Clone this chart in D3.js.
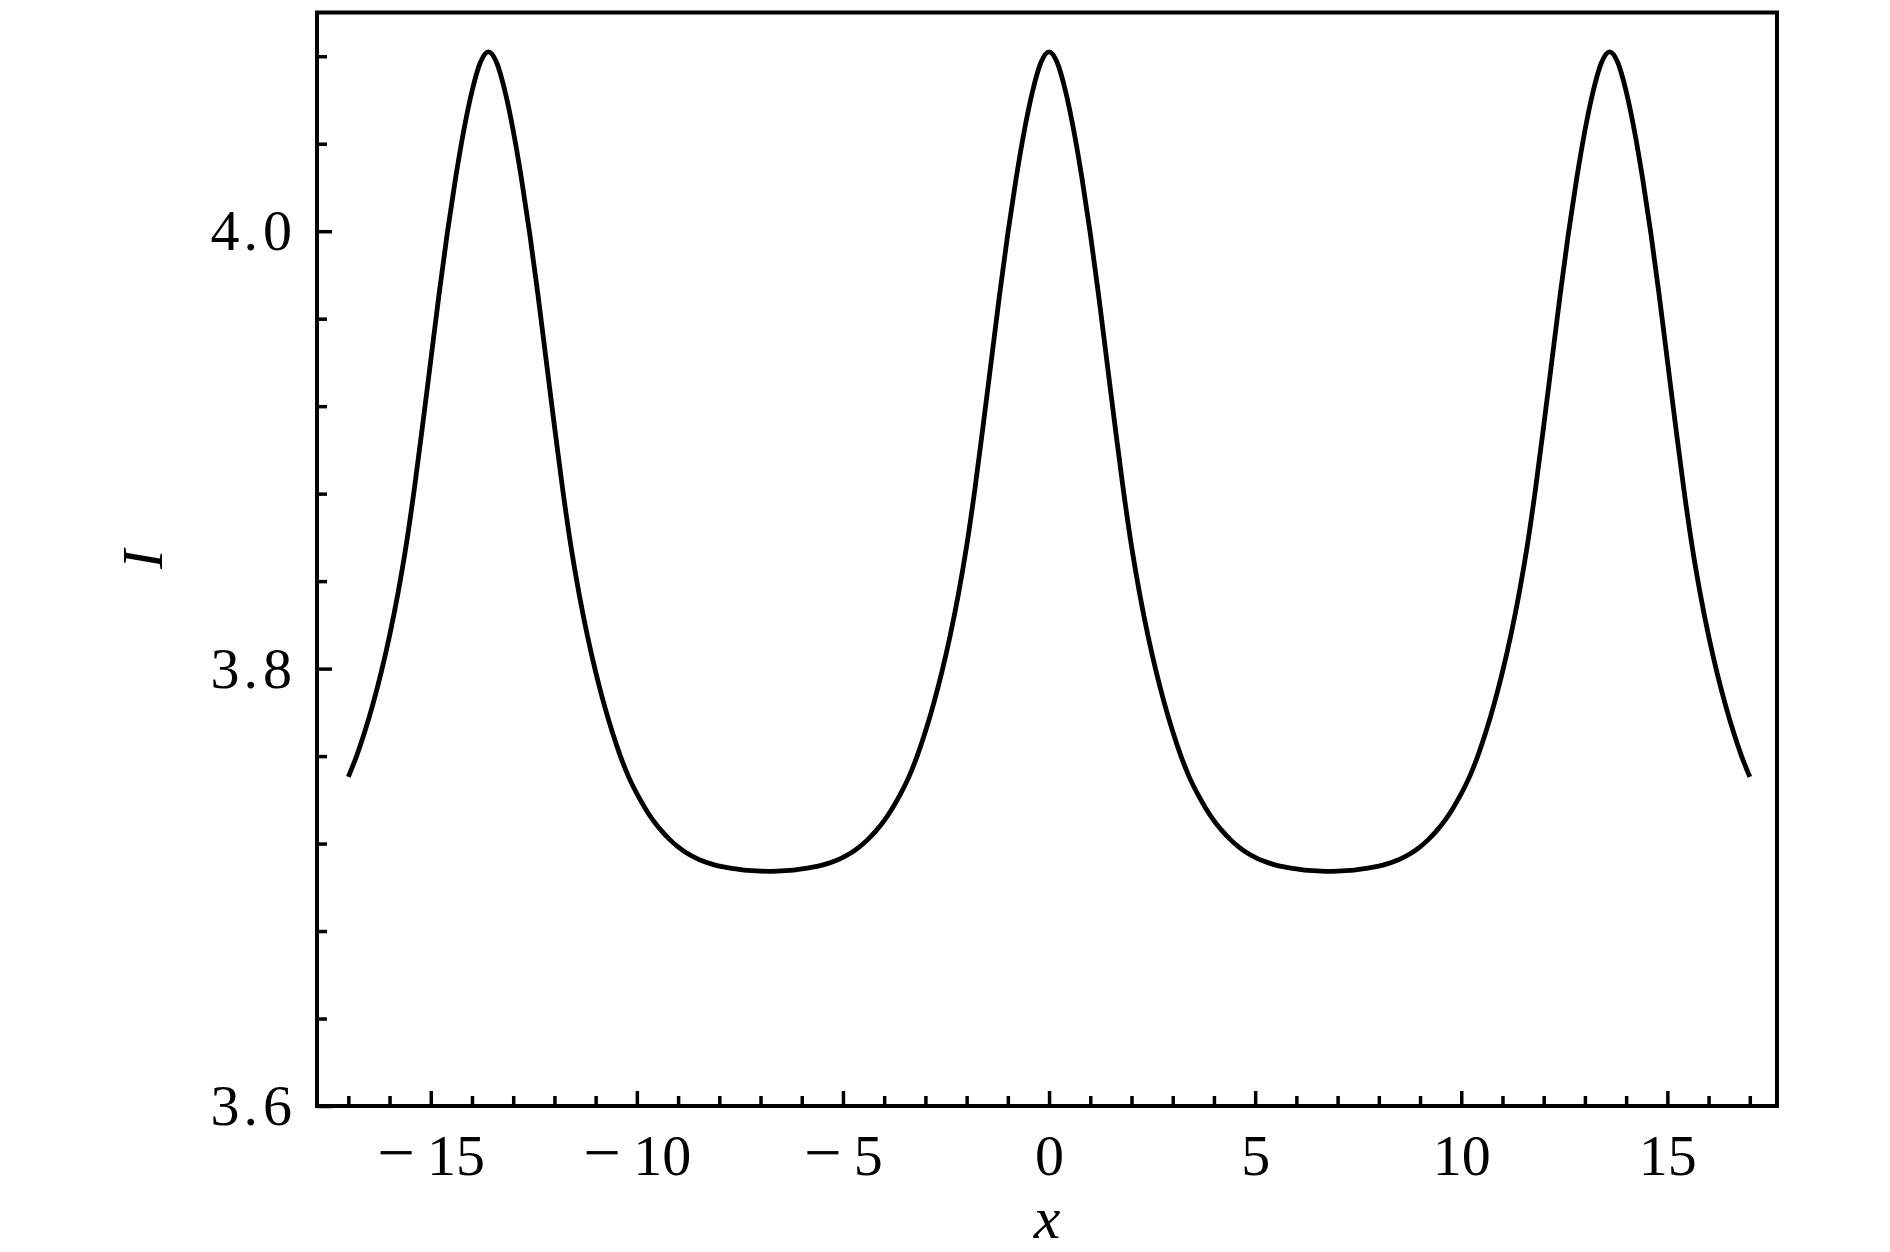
<!DOCTYPE html>
<html>
<head>
<meta charset="utf-8">
<script src="https://cdn.jsdelivr.net/npm/d3@7"></script>
<style>
  html, body { margin: 0; padding: 0; background: #fff; }
  svg { display: block; }
</style>
</head>
<body>
<svg id="chart" width="1890" height="1252"></svg>
<script>
// ---- data ----
const xValues = [
  -17.0,-16.8,-16.6,-16.4,-16.2,-16.0,-15.8,-15.6,-15.4,-15.2,-15.0,-14.8,-14.6,-14.4,-14.2,-14.0,-13.8,-13.6,
  -13.4,-13.2,-13.0,-12.8,-12.6,-12.4,-12.2,-12.0,-11.8,-11.6,-11.4,-11.2,-11.0,-10.8,-10.6,-10.4,-10.2,-10.0,
  -9.8,-9.6,-9.4,-9.2,-9.0,-8.8,-8.6,-8.4,-8.2,-8.0,-7.8,-7.6,-7.4,-7.2,-7.0,-6.8,
  -6.6,-6.4,-6.2,-6.0,-5.8,-5.6,-5.4,-5.2,-5.0,-4.8,-4.6,-4.4,-4.2,-4.0,-3.8,-3.6,-3.4,-3.2,-3.0,-2.8,-2.6,-2.4,
  -2.2,-2.0,-1.8,-1.6,-1.4,-1.2,-1.0,-0.8,-0.6,-0.4,-0.2,0.0,
  0.2,0.4,0.6,0.8,1.0,1.2,1.4,1.6,1.8,2.0,2.2,2.4,2.6,2.8,3.0,3.2,3.4,3.6,3.8,4.0,4.2,4.4,4.6,4.8,5.0,5.2,5.4,
  5.6,5.8,6.0,6.2,6.4,6.6,6.8,
  7.0,7.2,7.4,7.6,7.8,8.0,8.2,8.4,8.6,8.8,9.0,9.2,9.4,9.6,9.8,10.0,10.2,10.4,10.6,10.8,11.0,11.2,11.4,11.6,11.8,
  12.0,12.2,12.4,12.6,12.8,13.0,13.2,13.4,13.6,
  13.8,14.0,14.2,14.4,14.6,14.8,15.0,15.2,15.4,15.6,15.8,16.0,16.2,16.4,16.6,16.8,17.0
];
const intensity = [
  // x = -17.0 .. -13.6
  3.7505,3.7600,3.7712,3.7840,3.7985,3.8150,3.8340,3.8560,3.8820,3.9110,3.9410,3.9710,3.9990,4.0240,4.0460,4.0640,4.0770,4.0820,
  // x = -13.4 .. -6.8
  4.0770,4.0640,4.0460,4.0240,3.9990,3.9710,3.9410,3.9110,3.8820,3.8560,3.8340,3.8150,3.7985,3.7840,3.7712,3.7600,3.7505,
  3.7428,3.7362,3.7305,3.7258,3.7218,3.7185,3.7158,3.7137,3.7120,3.7107,3.7097,3.7090,3.7084,3.7079,3.7076,3.7074,3.7073,
  // x = -6.6 .. 0.0
  3.7074,3.7076,3.7079,3.7084,3.7090,3.7097,3.7107,3.7120,3.7137,3.7158,3.7185,3.7218,3.7258,3.7305,3.7362,3.7428,3.7505,
  3.7600,3.7712,3.7840,3.7985,3.8150,3.8340,3.8560,3.8820,3.9110,3.9410,3.9710,3.9990,4.0240,4.0460,4.0640,4.0770,4.0820,
  // x = 0.2 .. 6.8
  4.0770,4.0640,4.0460,4.0240,3.9990,3.9710,3.9410,3.9110,3.8820,3.8560,3.8340,3.8150,3.7985,3.7840,3.7712,3.7600,3.7505,
  3.7428,3.7362,3.7305,3.7258,3.7218,3.7185,3.7158,3.7137,3.7120,3.7107,3.7097,3.7090,3.7084,3.7079,3.7076,3.7074,3.7073,
  // x = 7.0 .. 13.6
  3.7074,3.7076,3.7079,3.7084,3.7090,3.7097,3.7107,3.7120,3.7137,3.7158,3.7185,3.7218,3.7258,3.7305,3.7362,3.7428,3.7505,
  3.7600,3.7712,3.7840,3.7985,3.8150,3.8340,3.8560,3.8820,3.9110,3.9410,3.9710,3.9990,4.0240,4.0460,4.0640,4.0770,4.0820,
  // x = 13.8 .. 17.0
  4.0770,4.0640,4.0460,4.0240,3.9990,3.9710,3.9410,3.9110,3.8820,3.8560,3.8340,3.8150,3.7985,3.7840,3.7712,3.7600,3.7505
];
const xMajorTicks = [-15, -10, -5, 0, 5, 10, 15];
const xMinorTicks = [-17,-16,-14,-13,-12,-11,-9,-8,-7,-6,-4,-3,-2,-1,1,2,3,4,6,7,8,9,11,12,13,14,16,17];
const yMajorTicks = [3.6, 3.8, 4.0];
const yMinorTicks = [3.64, 3.68, 3.72, 3.76, 3.84, 3.88, 3.92, 3.96, 4.04, 4.08];
const xLabel = "x";
const yLabel = "I";

// ---- layout ----
const plotL = 317, plotR = 1777, plotT = 12.5, plotB = 1106;
const svg = d3.select("#chart");
svg.append("rect").attr("width", 1890).attr("height", 1252).attr("fill", "#fff");

const x = d3.scaleLinear().domain([-17.76, 17.66]).range([plotL, plotR]);
const y = d3.scaleLinear().domain([3.6, 4.1]).range([plotB, plotT]);

const fontFamily = "'Liberation Serif', 'Times New Roman', serif";
const tickFont = 58;
const tickW = 3.5;

function styleAxis(g) {
  g.select(".domain").remove();
  g.selectAll(".tick line").attr("stroke", "#000").attr("stroke-width", tickW);
  g.selectAll(".tick text").attr("fill", "#000").attr("font-family", fontFamily).attr("font-size", tickFont);
}

// x minor ticks
svg.append("g").attr("transform", `translate(0,${plotB})`)
  .call(d3.axisBottom(x).tickValues(xMinorTicks).tickSizeInner(-10).tickSizeOuter(0).tickFormat(""))
  .call(styleAxis);
// x major ticks
const gx = svg.append("g").attr("transform", `translate(0,${plotB})`)
  .call(d3.axisBottom(x).tickValues(xMajorTicks).tickSizeInner(-15).tickSizeOuter(0).tickPadding(28)
    .tickFormat(d => String(Math.abs(d))))
  .call(styleAxis);
gx.selectAll(".tick text").each(function(d) {
  if (d < 0) {
    const t = d3.select(this);
    const txt = t.text();
    t.text(null);
    t.append("tspan").text("\u2212").attr("font-size", tickFont * 1.15);
    t.append("tspan").attr("dx", 12).text(txt);
  }
});

// y minor ticks
svg.append("g").attr("transform", `translate(${plotL},0)`)
  .call(d3.axisLeft(y).tickValues(yMinorTicks).tickSizeInner(-10).tickSizeOuter(0).tickFormat(""))
  .call(styleAxis);
// y major ticks
const gy = svg.append("g").attr("transform", `translate(${plotL},0)`)
  .call(d3.axisLeft(y).tickValues(yMajorTicks).tickSizeInner(-15).tickSizeOuter(0).tickPadding(25)
    .tickFormat(d3.format(".1f")))
  .call(styleAxis);
gy.selectAll(".tick text").each(function() {
  const t = d3.select(this);
  const s = t.text();
  t.text(null);
  t.append("tspan").text(s[0]);
  t.append("tspan").attr("dx", 4).text(s[1]);
  t.append("tspan").attr("dx", 5).text(s.slice(2));
});

// frame
svg.append("rect")
  .attr("x", plotL).attr("y", plotT)
  .attr("width", plotR - plotL).attr("height", plotB - plotT)
  .attr("fill", "none").attr("stroke", "#000").attr("stroke-width", 4);

// curve
const pts = xValues.map((v, i) => [v, intensity[i]]);
const line = d3.line().x(d => x(d[0])).y(d => y(d[1])).curve(d3.curveMonotoneX);
svg.append("path").datum(pts)
  .attr("d", line)
  .attr("fill", "none").attr("stroke", "#000").attr("stroke-width", 4.8)
  .attr("stroke-linejoin", "round");

// axis labels
svg.append("text")
  .attr("x", (plotL + plotR) / 2).attr("y", 1238)
  .attr("text-anchor", "middle")
  .attr("font-family", fontFamily).attr("font-style", "italic").attr("font-size", 60)
  .text(xLabel);
svg.append("text")
  .attr("transform", `translate(162,${(plotT + plotB) / 2}) rotate(-90)`)
  .attr("text-anchor", "middle")
  .attr("font-family", fontFamily).attr("font-style", "italic").attr("font-size", 58)
  .text(yLabel);
</script>
</body>
</html>
